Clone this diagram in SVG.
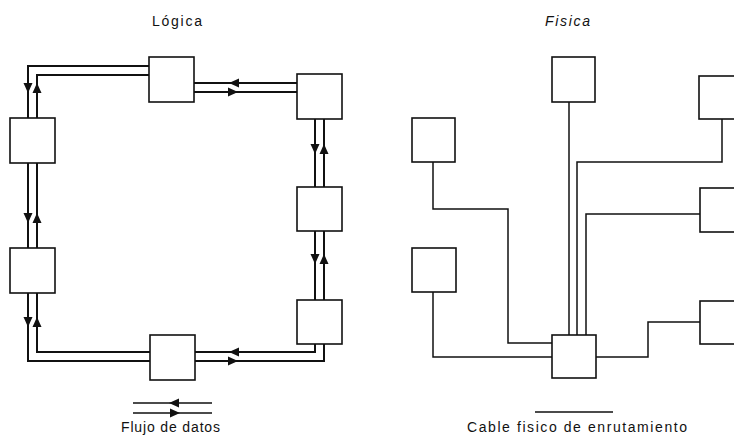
<svg xmlns="http://www.w3.org/2000/svg" xmlns:xlink="http://www.w3.org/1999/xlink" width="734" height="438" viewBox="0 0 734 438">
<style>
  .box{fill:#fff;stroke:#111;stroke-width:1.6}
  .ring{fill:none;stroke:#111;stroke-width:2}
  .cable{fill:none;stroke:#111;stroke-width:1.5}
  .lbl{font-family:"Liberation Sans",Arial,sans-serif;fill:#111}
  .ttl{font-size:14px}
  .leg{font-size:14px}
</style>
<defs>
  <path id="ah" d="M5,0 L-5,-4.5 L-5,4.5 Z" fill="#111"/>
</defs>
<rect width="734" height="438" fill="#fff"/>

<text class="lbl ttl" x="152" y="26" textLength="50" lengthAdjust="spacing">Lógica</text>
<text class="lbl ttl" x="545" y="26" textLength="45" lengthAdjust="spacing" font-style="italic">Fisica</text>

<g id="connectors">
  <!-- logical ring -->
  <path class="ring" d="M149,66 H28 V118 M28,163 V248 M28,293 V361 H150 M195,361 H324 V344 M324,300 V231 M324,187 V119 M297,92 H194"/>
  <path class="ring" d="M149,75 H37 V118 M37,163 V248 M37,293 V352 H150 M195,352 H315 V344 M315,300 V231 M315,187 V119 M297,83 H194"/>
  <use href="#ah" transform="translate(28,88) rotate(90)"/>
  <use href="#ah" transform="translate(37,88) rotate(-90)"/>
  <use href="#ah" transform="translate(28,218) rotate(90)"/>
  <use href="#ah" transform="translate(37,218) rotate(-90)"/>
  <use href="#ah" transform="translate(28,322) rotate(90)"/>
  <use href="#ah" transform="translate(37,322) rotate(-90)"/>
  <use href="#ah" transform="translate(234,83) rotate(180)"/>
  <use href="#ah" transform="translate(233,92)"/>
  <use href="#ah" transform="translate(315,149) rotate(90)"/>
  <use href="#ah" transform="translate(324,149) rotate(-90)"/>
  <use href="#ah" transform="translate(315,259) rotate(90)"/>
  <use href="#ah" transform="translate(324,259) rotate(-90)"/>
  <use href="#ah" transform="translate(234,352) rotate(180)"/>
  <use href="#ah" transform="translate(233,361)"/>
  <!-- physical cabling -->
  <path class="cable" d="M569,102 V335"/>
  <path class="cable" d="M722,119 V162 H577 V335"/>
  <path class="cable" d="M700,214 H586 V335"/>
  <path class="cable" d="M433,162 V209 H508 V343 H552"/>
  <path class="cable" d="M433,292 V357 H552"/>
  <path class="cable" d="M700,322 H648 V357 H596"/>
</g>

<g id="logical-top"><rect class="box" x="149" y="57" width="45" height="45"/></g>
<g id="logical-left-upper"><rect class="box" x="10" y="118" width="45" height="45"/></g>
<g id="logical-left-lower"><rect class="box" x="10" y="248" width="45" height="45"/></g>
<g id="logical-bottom"><rect class="box" x="150" y="335" width="45" height="45"/></g>
<g id="logical-right-top"><rect class="box" x="297" y="74" width="45" height="45"/></g>
<g id="logical-right-middle"><rect class="box" x="297" y="187" width="45" height="44"/></g>
<g id="logical-right-bottom"><rect class="box" x="297" y="300" width="45" height="44"/></g>

<g id="physical-top"><rect class="box" x="552" y="57" width="43" height="45"/></g>
<g id="physical-top-right"><rect class="box" x="699" y="76" width="45" height="43"/></g>
<g id="physical-left-upper"><rect class="box" x="412" y="118" width="43" height="44"/></g>
<g id="physical-right-middle"><rect class="box" x="700" y="188" width="45" height="44"/></g>
<g id="physical-left-lower"><rect class="box" x="412" y="248" width="44" height="44"/></g>
<g id="physical-hub"><rect class="box" x="552" y="335" width="44" height="43"/></g>
<g id="physical-right-lower"><rect class="box" x="700" y="301" width="45" height="43"/></g>

<g id="legend">
  <path class="cable" d="M133,403 H212 M133,413 H212 M535,412 H613"/>
  <use href="#ah" transform="translate(174,403) rotate(180)"/>
  <use href="#ah" transform="translate(175,413)"/>
  <text class="lbl leg" x="121" y="432" textLength="99" lengthAdjust="spacing">Flujo de datos</text>
  <text class="lbl leg" x="467" y="432" textLength="220" lengthAdjust="spacing">Cable fisico de enrutamiento</text>
</g>
</svg>
